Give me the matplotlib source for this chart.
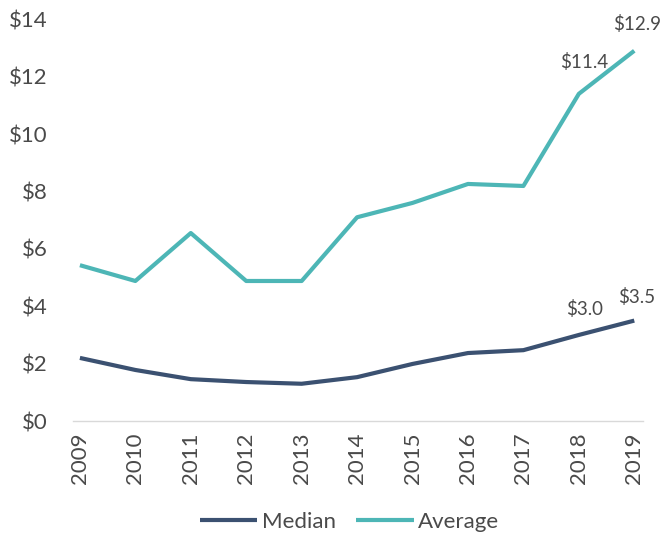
import matplotlib
matplotlib.use("Agg")
import matplotlib.pyplot as plt
from matplotlib.ticker import FuncFormatter

years = ["2009", "2010", "2011", "2012", "2013", "2014", "2015", "2016", "2017", "2018", "2019"]
median = [2.20, 1.78, 1.46, 1.36, 1.30, 1.53, 1.99, 2.37, 2.47, 3.0, 3.5]
average = [5.43, 4.88, 6.55, 4.88, 4.88, 7.10, 7.60, 8.26, 8.19, 11.4, 12.9]

NAVY = "#3b5171"
TEAL = "#4db6b6"
TEXT = "#4a4a4a"

plt.rcParams["font.family"] = ["Lato", "DejaVu Sans"]

fig = plt.figure(figsize=(6.61, 5.33), dpi=100)
ax = fig.add_axes([0.110, 0.210, 0.863, 0.754])

x = list(range(len(years)))
ax.plot(x, median, color=NAVY, lw=3.0, solid_capstyle="butt", label="Median")
ax.plot(x, average, color=TEAL, lw=3.0, solid_capstyle="butt", label="Average")

ax.set_ylim(0, 14)
ax.set_yticks(range(0, 15, 2))
ax.yaxis.set_major_formatter(FuncFormatter(lambda v, _: f"${v:.0f}"))
ax.set_xlim(-0.13, 10.16)
ax.set_xticks(x)
ax.set_xticklabels(years, rotation=90)

for s in ["top", "right", "left"]:
    ax.spines[s].set_visible(False)
ax.spines["bottom"].set_color("#d9d9d9")
ax.spines["bottom"].set_linewidth(1.0)
ax.tick_params(length=0, labelsize=16, labelcolor=TEXT)
ax.tick_params(axis="y", pad=18)
ax.tick_params(axis="x", pad=8)

def label(i, vals, dx, dy):
    ax.annotate(f"${vals[i]:.1f}", (i, vals[i]), xytext=(dx, dy), textcoords="offset points",
                ha="center", va="center", fontsize=13.5, color=TEXT)

label(9, average, 4, 23)
label(10, average, 2, 19)
label(9, median, 4, 19)
label(10, median, 2, 17)

leg = ax.legend(loc="center", bbox_to_anchor=(0.485, -0.25), ncol=2, frameon=False,
                handlelength=2.6, columnspacing=0.9, handletextpad=0.2,
                prop={"size": 16})
for t in leg.get_texts():
    t.set_color(TEXT)

fig.savefig("out.png", dpi=100)
